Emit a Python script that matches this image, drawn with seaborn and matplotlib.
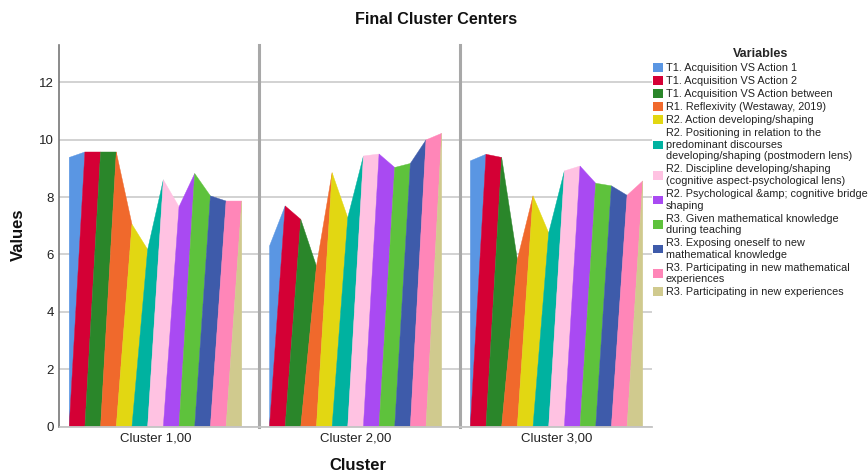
import numpy as np
import pandas as pd
import matplotlib
matplotlib.use("Agg")
import matplotlib.pyplot as plt
from matplotlib.patches import Patch
import seaborn as sns

variables = [
    "T1. Acquisition VS Action 1",
    "T1. Acquisition VS Action 2",
    "T1. Acquisition VS Action between",
    "R1. Reflexivity (Westaway, 2019)",
    "R2. Action developing/shaping",
    "R2. Positioning in relation to the\npredominant discourses\ndeveloping/shaping (postmodern lens)",
    "R2. Discipline developing/shaping\n(cognitive aspect-psychological lens)",
    "R2. Psychological &amp; cognitive bridge\nshaping",
    "R3. Given mathematical knowledge\nduring teaching",
    "R3. Exposing oneself to new\nmathematical knowledge",
    "R3. Participating in new mathematical\nexperiences",
    "R3. Participating in new experiences",
]
cluster_names = ["Cluster 1,00", "Cluster 2,00", "Cluster 3,00"]
cluster1 = [9.38, 9.57, 9.57, 9.57, 7.05, 6.17, 8.60, 7.66, 8.82, 8.04, 7.86, 7.86]
cluster2 = [6.29, 7.69, 7.22, 5.59, 8.85, 7.28, 9.43, 9.50, 9.03, 9.17, 9.99, 10.22]
cluster3 = [9.26, 9.49, 9.38, 5.82, 8.04, 6.75, 8.91, 9.08, 8.48, 8.39, 8.06, 8.56]
y_ticks = [0, 2, 4, 6, 8, 10, 12]

colors = ["#5A96E3", "#D40035", "#2A862A", "#F0692C", "#E2D712", "#00B2A0",
          "#FFC2E2", "#A94AF2", "#5EC23C", "#3E5BAA", "#FF86B8", "#D0CA8E"]

sns.set_style("white")
plt.rcParams["font.family"] = ["Liberation Sans", "DejaVu Sans"]

n_var = len(variables)
df = pd.DataFrame({
    "Cluster": np.repeat(cluster_names, n_var),
    "Variable": variables * len(cluster_names),
    "Pos": np.tile(np.arange(n_var), len(cluster_names)),
    "Value": cluster1 + cluster2 + cluster3,
})


def slanted_area(data, **kws):
    # SPSS style area: each variable is a slanted band under the value line
    ax = plt.gca()
    x = data["Pos"].to_numpy()
    y = data["Value"].to_numpy()
    n = len(x)
    for k in range(n):
        lo, hi = max(k - 1, 0), min(k + 1, n - 1)
        ax.fill([x[lo], x[k], x[hi], x[k]], [0, y[k], y[hi], 0],
                facecolor=colors[k], edgecolor=colors[k], lw=0.3, zorder=2)


g = sns.FacetGrid(df, col="Cluster", col_order=cluster_names,
                  height=4.75, aspect=8.68 / 3 / 4.75,
                  sharex=False, sharey=True, despine=False,
                  gridspec_kws={"width_ratios": [200, 200.5, 192.5]})
g.map_dataframe(slanted_area)
g.set_titles(template="")
g.set_axis_labels("", "")

fig = g.figure
fig.subplots_adjust(left=59.5 / 868, right=652 / 868,
                    bottom=48.5 / 475, top=1 - 45 / 475, wspace=0)

xlims = [(-0.62, 12.12), (-0.65, 12.15), (-0.68, 11.59)]
for i, ax in enumerate(g.axes.flat):
    ax.set_xlim(*xlims[i])
    ax.set_ylim(0, 13.3)
    ax.set_xticks([5.5])
    ax.set_xticklabels([cluster_names[i]], fontsize=9.5, color="#333333")
    ax.set_yticks(y_ticks)
    ax.tick_params(length=0, pad=4, labelsize=9.5, labelcolor="#222222")
    ax.yaxis.grid(True, color="#cfcfcf", lw=1.3)
    ax.set_axisbelow(True)
    ax.spines["top"].set_visible(False)
    ax.spines["right"].set_visible(False)
    ax.spines["bottom"].set_color("#c4c4c4")
    ax.spines["bottom"].set_linewidth(1.3)
    if i == 0:
        ax.spines["left"].set_color("#777777")
        ax.spines["left"].set_linewidth(1.2)
    else:
        ax.spines["left"].set_color("#a8a8a8")
        ax.spines["left"].set_linewidth(2.2)
        ax.tick_params(labelleft=False)

fig.text(436 / 868, 1 - 19 / 475, "Final Cluster Centers", ha="center",
         va="center", fontsize=11.6, fontweight="bold", color="#111111")
fig.text(18 / 868, 1 - 235 / 475, "Values", rotation=90, ha="center",
         va="center", fontsize=12, fontweight="bold", color="#111111")
fig.text(358 / 868, 1 - 465 / 475, "Cluster", ha="center", va="center",
         fontsize=12, fontweight="bold", color="#111111")

handles = [Patch(facecolor=c, edgecolor="none") for c in colors]
leg = fig.legend(handles, variables, loc="upper left",
                 bbox_to_anchor=(653 / 868, 1 - 48 / 475),
                 frameon=False, fontsize=7.85, title="Variables",
                 title_fontproperties={"weight": "bold", "size": 9.1},
                 handlelength=0.95, handleheight=0.85, handletextpad=0.2,
                 labelspacing=0.27, borderpad=0, borderaxespad=0)
for t in leg.get_texts():
    t.set_color("#222222")

fig.savefig("out.png", dpi=100)
